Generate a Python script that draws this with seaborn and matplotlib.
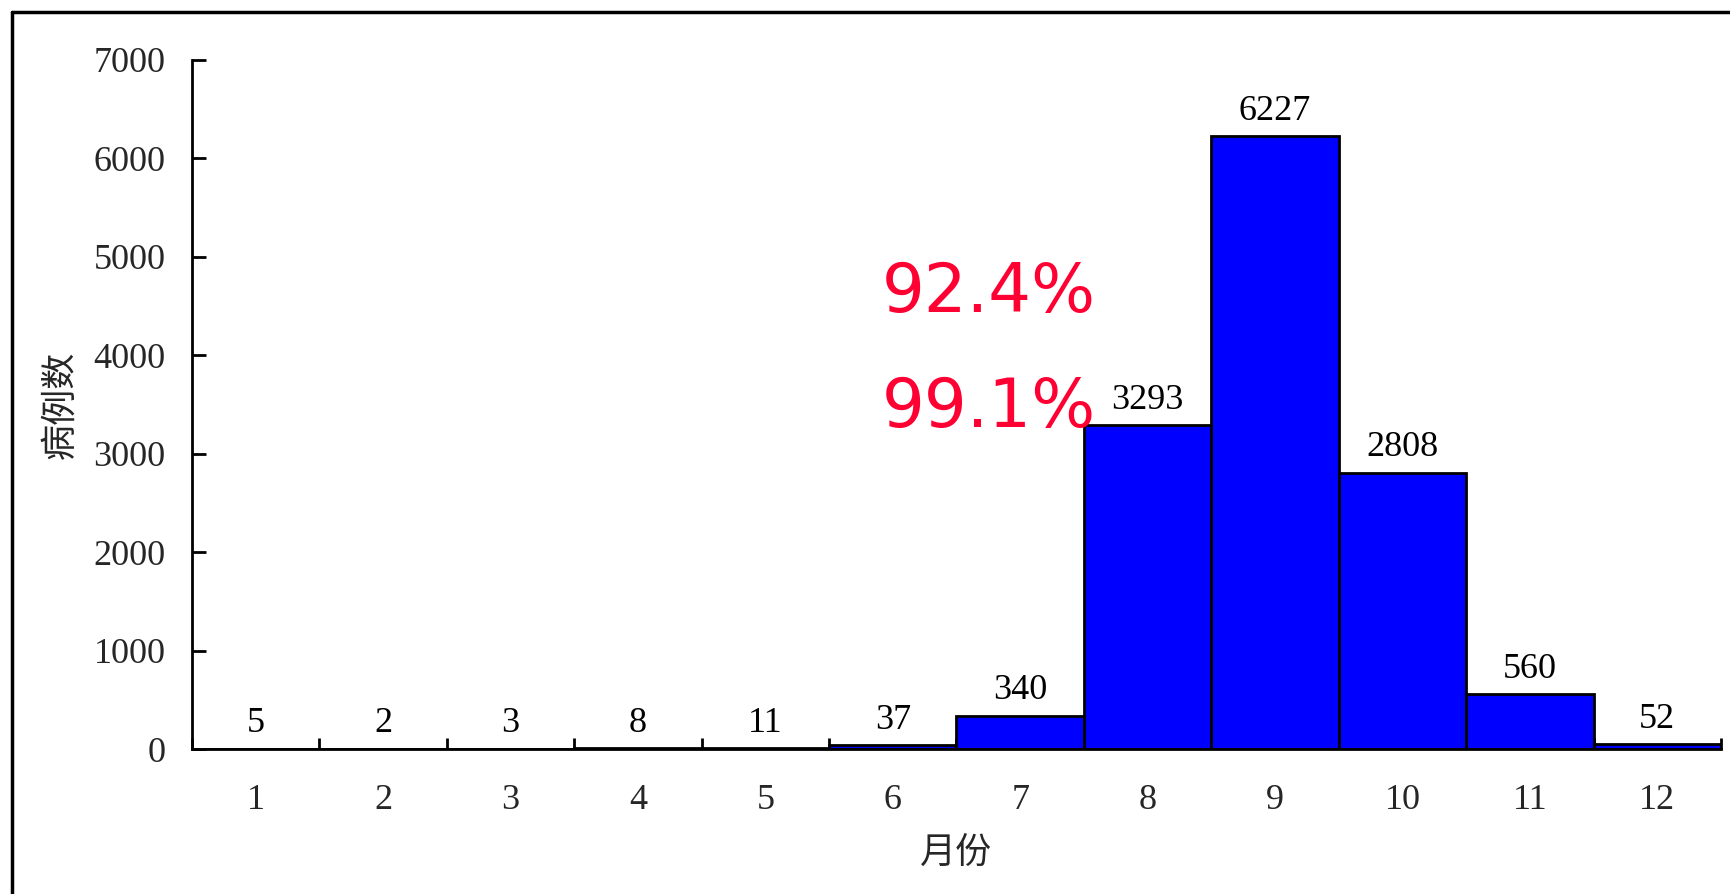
import matplotlib
matplotlib.use("Agg")
import matplotlib.pyplot as plt
from matplotlib.lines import Line2D
from matplotlib.ticker import FixedLocator
import seaborn as sns
import pandas as pd

# Monthly case counts
months = ["1", "2", "3", "4", "5", "6", "7", "8", "9", "10", "11", "12"]
cases = [5, 2, 3, 8, 11, 37, 340, 3293, 6227, 2808, 560, 52]
y_ticks = [0, 1000, 2000, 3000, 4000, 5000, 6000, 7000]
share_labels = ["92.4%", "99.1%"]

sns.set_theme(style="white")
plt.rcParams["font.family"] = ["Liberation Serif", "Noto Sans CJK SC", "DejaVu Sans"]

W, H = 1731, 894
fig = plt.figure(figsize=(W / 100, H / 100), dpi=100)
ax = fig.add_axes([192 / W, 1 - 749 / H, (1721 - 192) / W, (749 - 60) / H])

df = pd.DataFrame({"月份": months, "病例数": cases})
sns.barplot(data=df, x="月份", y="病例数", color="#0000ff", saturation=1,
            width=1.0, edgecolor="black", linewidth=2, ax=ax)

ax.set_xlim(-0.5, len(months) - 0.5)
ax.set_ylim(0, 7000)
ax.set_yticks(y_ticks)
ax.set_yticklabels([str(v) for v in y_ticks])

# category boundaries carry the tick marks, labels sit at bar centres
ax.xaxis.set_minor_locator(FixedLocator([i - 0.5 for i in range(len(months) + 1)]))
ax.tick_params(axis="x", which="major", length=0, pad=25, labelsize=26)
ax.tick_params(axis="x", which="minor", direction="in", length=8, width=2,
               color="black", bottom=True)
ax.tick_params(axis="y", direction="in", length=10, width=2, color="black",
               left=True, pad=19, labelsize=26)

for side in ("top", "right"):
    ax.spines[side].set_visible(False)
for side in ("left", "bottom"):
    ax.spines[side].set_color("black")
    ax.spines[side].set_linewidth(2)

ax.set_xlabel("月份", fontsize=26, family=["Noto Sans CJK SC"], labelpad=13)
ax.set_ylabel("病例数", fontsize=26, family=["Noto Sans CJK SC"], labelpad=11)

ax.bar_label(ax.containers[0], labels=[str(v) for v in cases], padding=6,
             fontsize=26, color="black")

# cumulative share annotations
fig.text(882 / W, 1 - 312 / H, share_labels[0], color="#ff0033", fontsize=48.5,
         family=["DejaVu Sans"], ha="left", va="baseline")
fig.text(882 / W, 1 - 427 / H, share_labels[1], color="#ff0033", fontsize=48.5,
         family=["DejaVu Sans"], ha="left", va="baseline")

# outer frame (left and top edges)
fig.add_artist(Line2D([12 / W, 12 / W], [-0.1, 1 - 12 / H], color="black",
                      linewidth=2.5, transform=fig.transFigure))
fig.add_artist(Line2D([12 / W, 1.1], [1 - 12 / H, 1 - 12 / H], color="black",
                      linewidth=2.5, transform=fig.transFigure))

fig.savefig("out.png", dpi=100, facecolor="white")
